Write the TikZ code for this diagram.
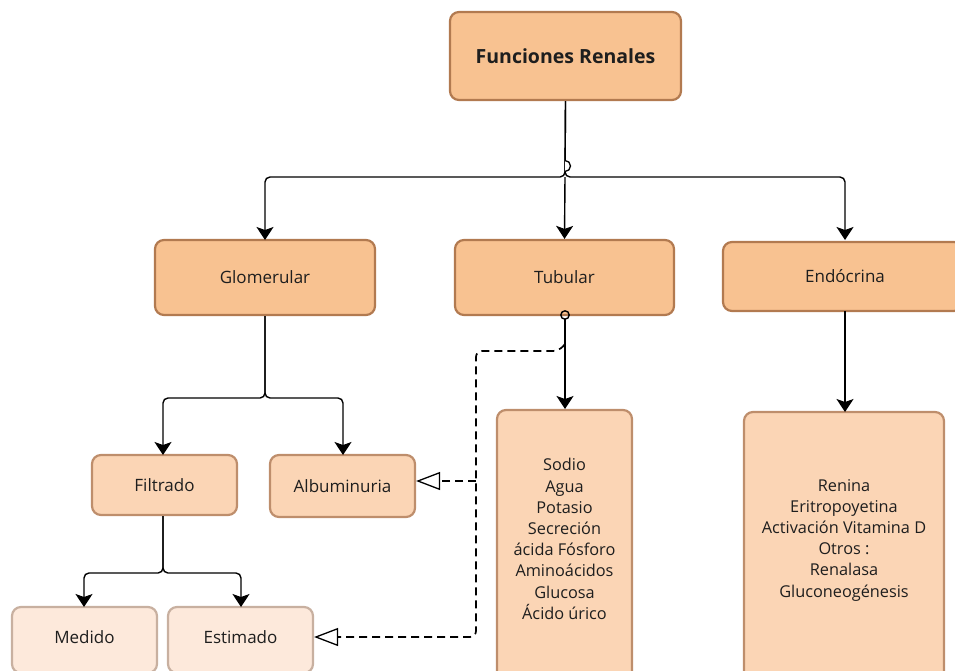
\documentclass[tikz,border=0pt]{standalone}
\usepackage{fontspec}
\setmainfont{Open Sans}
\usetikzlibrary{arrows.meta}
\definecolor{fillA}{RGB}{248,194,145}
\definecolor{drawA}{RGB}{178,122,80}
\definecolor{fillB}{RGB}{251,213,181}
\definecolor{drawB}{RGB}{190,142,108}
\definecolor{fillC}{RGB}{253,233,219}
\definecolor{drawC}{RGB}{200,176,160}
\definecolor{txt}{RGB}{30,30,30}
\tikzset{
  box/.style={rectangle, rounded corners=9pt, line width=2.2pt, text=txt, align=center, inner sep=0pt, font=\fontsize{17}{21}\selectfont},
  boxA/.style={box, fill=fillA, draw=drawA},
  boxB/.style={box, fill=fillB, draw=drawB},
  boxC/.style={box, fill=fillC, draw=drawC},
  lab/.style={text=txt, font=\fontsize{17}{21}\selectfont},
  listlab/.style={text=txt, align=center, font=\fontsize{16.3}{21.2}\selectfont},
  conn/.style={line width=1.4pt, draw=black, rounded corners=5pt, -{Stealth[length=13pt,width=17pt,inset=3pt]}},
  plain/.style={line width=1.3pt, draw=black},
  dashconn/.style={line width=1.7pt, dash pattern=on 8pt off 5pt, rounded corners=6pt},
  opentip/.style={-{Triangle[open,length=24pt,width=18pt,line width=1.3pt]}}
}
\begin{document}
\begin{tikzpicture}[x=1pt,y=-1pt]
\useasboundingbox (0,0) rectangle (955,670);
\clip (0,0) rectangle (955,670);
% boxes
\node[boxA, minimum width=231pt, minimum height=88pt, font=\fontsize{19.5}{22}\selectfont\bfseries] (F) at (565.5,56) {Funciones Renales};
\node[boxA, minimum width=220pt, minimum height=75pt] (G) at (265,277.5) {Glomerular};
\node[boxA, minimum width=219pt, minimum height=75pt] (T) at (564.5,277.5) {Tubular};
\node[boxA, minimum width=240pt, minimum height=69pt] (E) at (843,276.5) {};
\node[lab] (Elab) at (845,276.5) {Endócrina};
\node[boxB, minimum width=145pt, minimum height=60pt] (Fi) at (164.5,485) {Filtrado};
\node[boxB, minimum width=145pt, minimum height=62pt] (A) at (342.5,486) {Albuminuria};
\node[boxC, minimum width=145pt, minimum height=66pt] (M) at (84.5,640) {};
\node[lab] (Mlab) at (84.5,637) {Medido};
\node[boxC, minimum width=145pt, minimum height=66pt] (Es) at (240.5,640) {};
\node[lab] (Eslab) at (240.5,637) {Estimado};
\node[boxB, minimum width=135pt, minimum height=270pt] (TL) at (564.5,545) {};
\node[listlab] (TLlab) at (564.5,539) {Sodio\\Agua\\Potasio\\Secreción\\ácida Fósforo\\Aminoácidos\\Glucosa\\Ácido úrico};
\node[boxB, minimum width=200pt, minimum height=270pt] (EL) at (844,547) {};
\node[listlab] (ELlab) at (844,540) {Renina\\Eritropoyetina\\Activación Vitamina D\\Otros :\\Renalasa\\Gluconeogénesis};
% coordinates
\coordinate (j1) at (565,177);
\coordinate (j2) at (265,398);
\coordinate (j3) at (163,573);
% top connectors
\draw[conn] (F.south) -- (j1) -| (265,240);
\draw[conn] (F.south) -- (j1) -| (845,240);
\draw[conn] (j1) -- (T.north);
\draw[plain, fill=white] (565,171.5) arc (90:-90:5.5);
% glomerular
\draw[conn] (G.south) -- (j2) -| (163,455);
\draw[conn] (G.south) -- (j2) -| (343,455);
% filtrado
\draw[conn] (Fi.south -| j3) -- (j3) -| (84,607);
\draw[conn] (Fi.south -| j3) -- (j3) -| (241,607);
% tubular
\coordinate (tc) at (565,315);
\draw[conn] (tc) ++(0,4) -- (565,409);
\draw[plain, line width=1.4pt] (tc) circle (4.2pt);
% endocrine
\draw[conn] (845,311) -- (845,412);
% dashed
\coordinate (d0) at (565,344);
\coordinate (d1) at (476,351);
\coordinate (d2) at (476,637);
\coordinate (d3) at (476,481);
\draw[dashconn, opentip] (d0) -- (559,351) -- (d1) -- (d2) -- (Es.east |- d2);
\draw[dashconn, line width=1.3pt, opentip] (d3) -- (A.east |- d3);
\end{tikzpicture}
\end{document}
